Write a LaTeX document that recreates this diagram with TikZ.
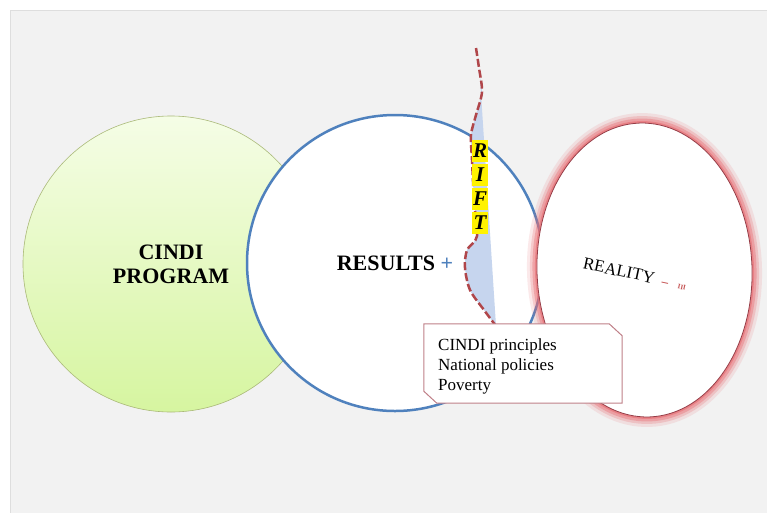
\documentclass[tikz,border=0pt]{standalone}
\usepackage{fontspec}
\setmainfont{Liberation Serif}
\usetikzlibrary{positioning}
\usetikzlibrary{shapes.geometric}
\definecolor{panel}{RGB}{242,242,242}
\definecolor{panelline}{RGB}{222,222,222}
\definecolor{progtop}{RGB}{245,253,230}
\definecolor{progbot}{RGB}{214,245,160}
\definecolor{progline}{RGB}{170,185,120}
\definecolor{blue}{RGB}{79,129,189}
\definecolor{glow}{RGB}{232,110,115}
\definecolor{realline}{RGB}{150,60,70}
\definecolor{rift}{RGB}{176,70,74}
\definecolor{riftfill}{RGB}{198,213,238}
\definecolor{noteline}{RGB}{192,128,136}
\definecolor{minusred}{RGB}{196,80,80}

\begin{document}
\begin{tikzpicture}[x=1pt,y=-1pt]
	\tikzstyle{prog}=[circle, minimum size=296pt, draw=progline, line width=0.6pt, top color=progtop, bottom color=progbot, align=center, font=\fontsize{22}{24}\selectfont\bfseries]
	\tikzstyle{results}=[circle, minimum size=296pt, draw=blue, line width=2.5pt, fill=white, font=\fontsize{22}{24}\selectfont\bfseries]
	\tikzstyle{realglow}=[ellipse, rotate=2, minimum width=215pt, minimum height=294pt, draw=glow]
	\tikzstyle{reality}=[ellipse, rotate=2, minimum width=215pt, minimum height=294pt, draw=realline, line width=0.8pt, fill=white]
	\tikzstyle{riftletter}=[fill=yellow, inner sep=0pt, minimum width=16pt, minimum height=22pt, font=\fontsize{21}{21}\selectfont\bfseries\itshape]
	\tikzstyle{notebox}=[draw=noteline, line width=1pt, fill=white]
	\tikzstyle{notetext}=[anchor=north west, inner sep=0pt, align=left, font=\fontsize{17}{20}\selectfont]
	
	\useasboundingbox (0,0) rectangle (767,512);
	\fill[white] (0,0) rectangle (767,512);
	\filldraw[fill=panel, draw=panelline] (10,10) rectangle (768,513);
	
	\draw node at (171,264) [prog] (prog) {CINDI\\PROGRAM};
	\draw node at (395,263) [results] (res) {RESULTS \textcolor{blue}{+}};
	
	\draw node at (644.5,270) [realglow, line width=20pt, opacity=0.15] {};
	\draw node at (644.5,270) [realglow, line width=14pt, opacity=0.25] {};
	\draw node at (644.5,270) [realglow, line width=9pt, opacity=0.40] {};
	\draw node at (644.5,270) [realglow, line width=4pt, opacity=0.60] {};
	\draw node at (644.5,270) [reality] (real) {};
	\draw node at (635,274) [rotate=-12, font=\fontsize{17}{17}\selectfont] (realtext) {REALITY\hspace{8pt}{\color{minusred}\fontsize{13}{13}\selectfont\bfseries --\hspace{10pt}\fontsize{7}{7}\selectfont III}};
	
	% the rift
	\fill[riftfill] plot[smooth] coordinates {(480,78) (482,92) (476,115) (471,135) (472,160) (474,200) (477,236) (467,250) (465,268) (470,290) (484,310) (496,326)} -- cycle;
	\draw[rift, line width=2.5pt, dash pattern=on 8pt off 3pt] plot[smooth] coordinates {(476,48) (479,68) (482,92) (476,115) (471,135) (472,160) (474,200) (477,236) (467,250) (465,268) (470,290) (484,310) (496,326)};
	
	\draw node at (480,151) [riftletter] (r) {R};
	\draw node at (480,175) [riftletter] (i) {I};
	\draw node at (480,199) [riftletter] (f) {F};
	\draw node at (480,223) [riftletter] (t) {T};
	
	\path node at (523,363.5) [minimum width=198pt, minimum height=79pt] (note) {};
	\filldraw[notebox] (note.north west) -- ([xshift=-13pt]note.north east) -- ([yshift=-12pt]note.north east) -- (note.south east) -- ([xshift=13pt]note.south west) -- ([yshift=12pt]note.south west) -- cycle;
	\draw node at (438,338.5) [notetext] (notes) {CINDI principles\\National policies\\Poverty};
\end{tikzpicture}
\end{document}
